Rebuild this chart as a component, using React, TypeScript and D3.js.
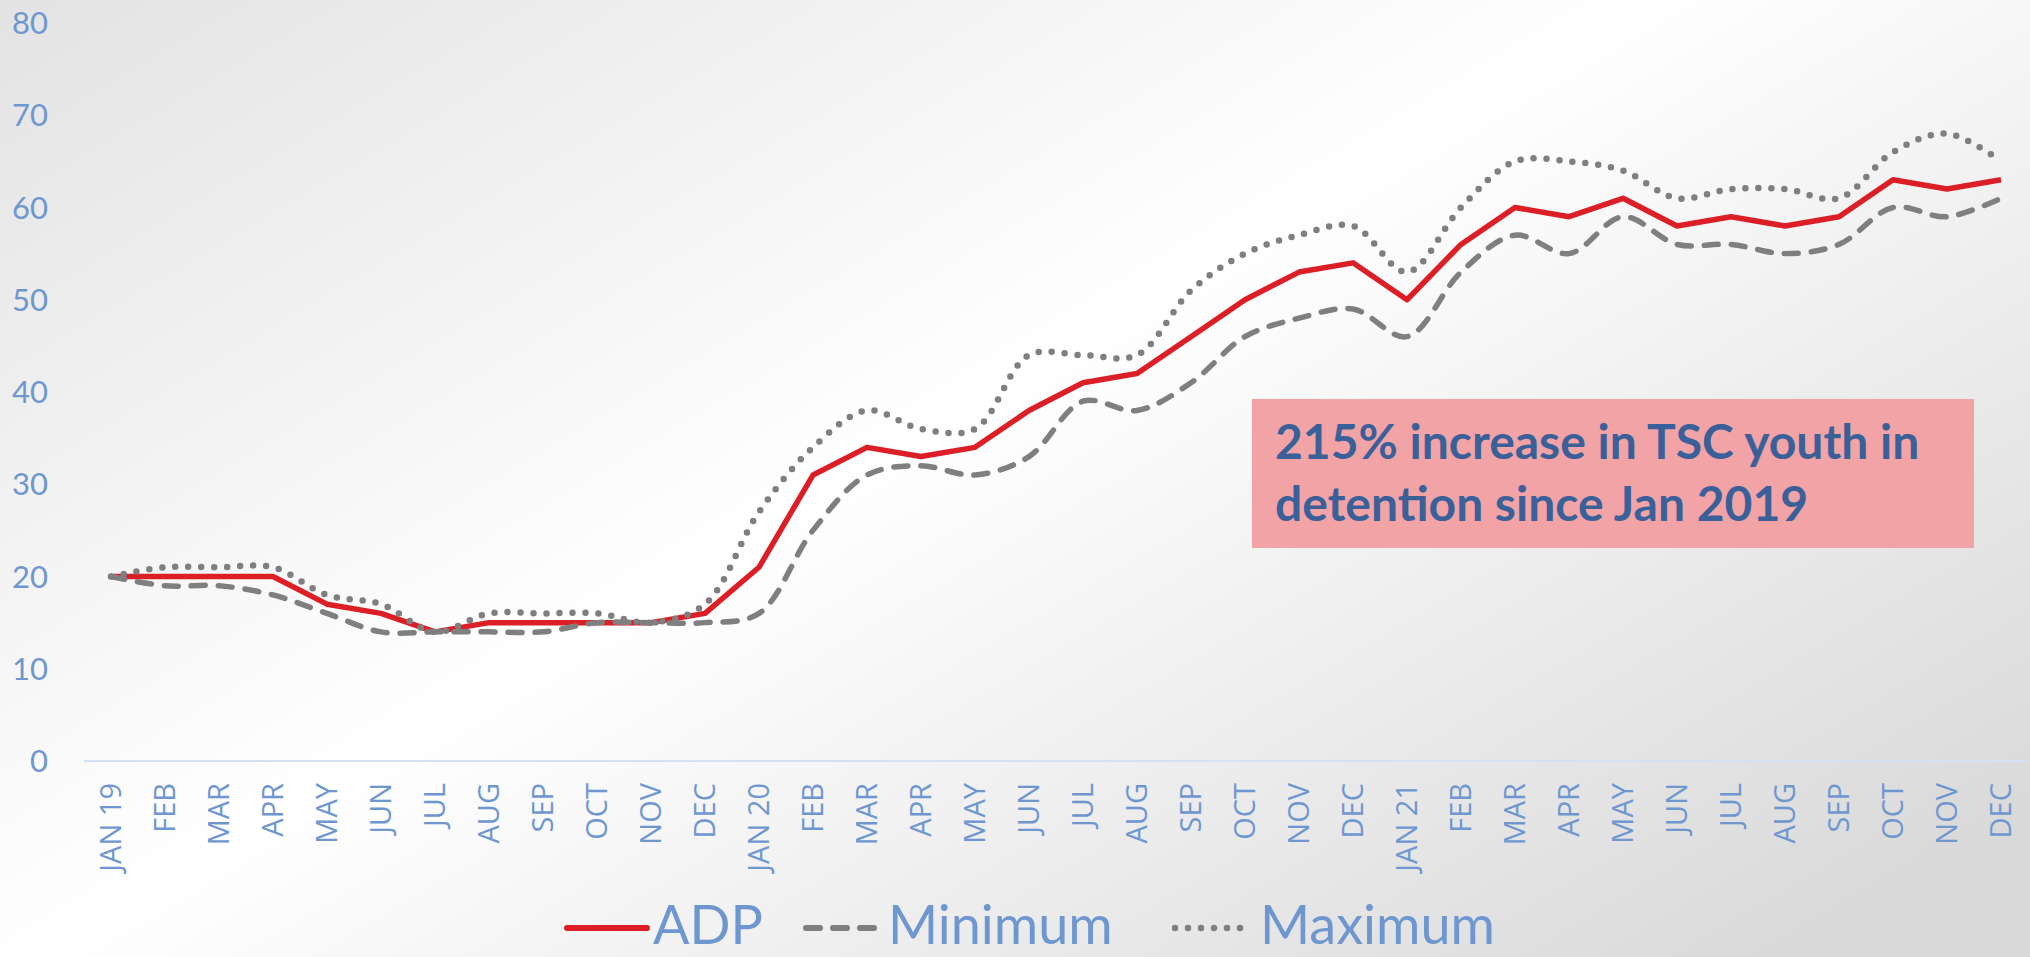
import { useEffect } from "react";
import * as d3 from "d3";

// month labels, Jan 2019 - Dec 2021
const monthLabels = [
  "JAN 19", "FEB", "MAR", "APR", "MAY", "JUN", "JUL", "AUG", "SEP", "OCT", "NOV", "DEC",
  "JAN 20", "FEB", "MAR", "APR", "MAY", "JUN", "JUL", "AUG", "SEP", "OCT", "NOV", "DEC",
  "JAN 21", "FEB", "MAR", "APR", "MAY", "JUN", "JUL", "AUG", "SEP", "OCT", "NOV", "DEC",
];

// average daily population
const adp = [
  20, 20, 20, 20, 17, 16, 14, 15, 15, 15, 15, 16,
  21, 31, 34, 33, 34, 38, 41, 42, 46, 50, 53, 54,
  50, 56, 60, 59, 61, 58, 59, 58, 59, 63, 62, 63,
];

const minimum = [
  20, 19, 19, 18, 16, 14, 14, 14, 14, 15, 15, 15,
  16, 25, 31, 32, 31, 33, 39, 38, 41, 46, 48, 49,
  46, 53, 57, 55, 59, 56, 56, 55, 56, 60, 59, 61,
];

const maximum = [
  20, 21, 21, 21, 18, 17, 14, 16, 16, 16, 15, 17,
  27, 34, 38, 36, 36, 44, 44, 44, 51, 55, 57, 58,
  53, 60, 65, 65, 64, 61, 62, 62, 61, 66, 68, 65,
];

const yTicks = [0, 10, 20, 30, 40, 50, 60, 70, 80];
const noteLines = ["215% increase in TSC youth in", "detention since Jan 2019"];

const W = 2030;
const H = 957;
const labelBlue = "#6F97CF";
const gray = "#7F7F7F";

export default function App() {
  useEffect(() => {
    document.body.style.margin = "0";
    document.body.style.overflow = "hidden";
  }, []);

  const x = d3
    .scalePoint<number>()
    .domain(d3.range(monthLabels.length))
    .range([84, 2028])
    .padding(0.5);
  const y = d3.scaleLinear().domain([0, 80]).range([761, 23]);

  const straight = d3
    .line<number>()
    .x((_, i) => x(i)!)
    .y((d) => y(d));
  const smooth = d3
    .line<number>()
    .x((_, i) => x(i)!)
    .y((d) => y(d))
    .curve(d3.curveCatmullRom.alpha(0.5));

  return (
    <svg width={W} height={H} style={{ display: "block" }}>
      <defs>
        <linearGradient id="bg" gradientUnits="userSpaceOnUse" x1={318} y1={-256} x2={1236} y2={1292}>
          <stop offset="0" stopColor="#e1e1e1" />
          <stop offset="0.5" stopColor="#ffffff" />
          <stop offset="1" stopColor="#d9d9d9" />
        </linearGradient>
      </defs>
      <rect width={W} height={H} fill="url(#bg)" />

      {/* y labels */}
      <g fontFamily="Lato, sans-serif" fontSize={31} fill={labelBlue} textAnchor="end">
        {yTicks.map((t) => (
          <text key={t} x={48} y={y(t)} dy="0.36em">
            {t}
          </text>
        ))}
      </g>

      {/* x axis */}
      <line x1={84} x2={2028} y1={y(0)} y2={y(0)} stroke="#D5E1F3" strokeWidth={2} />
      <g fontFamily="'Open Sans', sans-serif" fontSize={29} fill={labelBlue} textAnchor="end">
        {monthLabels.map((m, i) => (
          <text key={i} transform={`translate(${x(i)! + 10},783) rotate(-90)`}>
            {m}
          </text>
        ))}
      </g>

      {/* series */}
      <path d={straight(adp)!} fill="none" stroke="#DC1F27" strokeWidth={5.5} strokeLinejoin="round" />
      <path
        d={smooth(minimum)!}
        fill="none"
        stroke={gray}
        strokeWidth={5.5}
        strokeDasharray="14 13"
        strokeLinecap="round"
      />
      <path
        d={smooth(maximum)!}
        fill="none"
        stroke={gray}
        strokeWidth={6.5}
        strokeDasharray="0 13"
        strokeLinecap="round"
      />

      {/* annotation */}
      <rect x={1252} y={399} width={722} height={149} fill="#F2A3A5" />
      <g fontFamily="Lato, sans-serif" fontWeight="bold" fontSize={48} fill="#3A6099">
        {noteLines.map((l, i) => (
          <text key={i} x={1275} y={459 + i * 62}>
            {l}
          </text>
        ))}
      </g>

      {/* legend */}
      <g fontFamily="Lato, sans-serif" fontSize={54} fill={labelBlue}>
        <line x1={567} x2={647} y1={928} y2={928} stroke="#DC1F27" strokeWidth={6} strokeLinecap="round" />
        <text x={653} y={944}>ADP</text>
        <line x1={806} x2={876} y1={928} y2={928} stroke={gray} strokeWidth={6} strokeDasharray="14 13" strokeLinecap="round" />
        <text x={888} y={944}>Minimum</text>
        <line x1={1175} x2={1252} y1={928} y2={928} stroke={gray} strokeWidth={6.5} strokeDasharray="0 13" strokeLinecap="round" />
        <text x={1260} y={944}>Maximum</text>
      </g>
    </svg>
  );
}
